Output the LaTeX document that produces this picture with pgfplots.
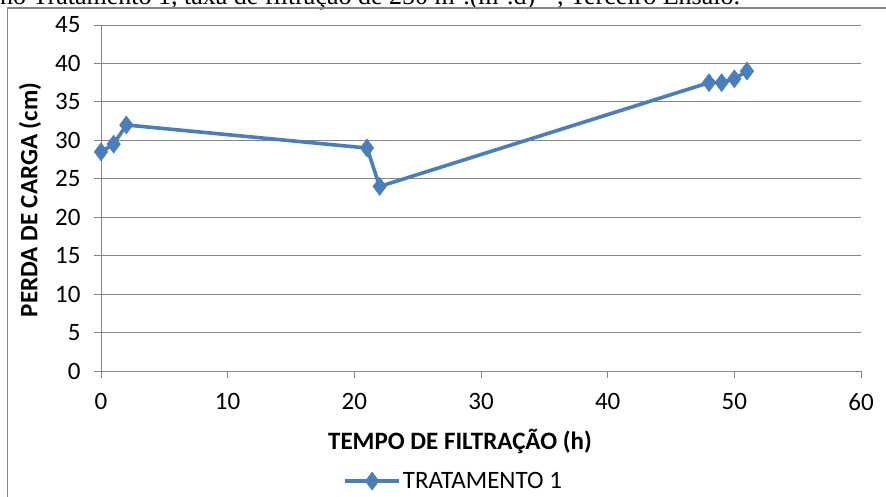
\documentclass[border=0pt]{standalone}
\usepackage{fontspec}
\setmainfont{Carlito}
\newfontfamily\capfont{Liberation Serif}
\usepackage{pgfplots}
\pgfplotsset{compat=1.18}
\definecolor{serie}{HTML}{4A7EBB}
\definecolor{eixo}{HTML}{868686}
\begin{document}
\begin{tikzpicture}[x=1pt,y=1pt]
\useasboundingbox (0,0) rectangle (886,496);
\clip (0,0) rectangle (886,496);
% legenda da figura, cortada no topo
\node[anchor=base west, inner sep=0pt, font=\capfont\fontsize{26}{26}\selectfont] at (0,491)
  {no Tratamento 1, taxa de filtração de 250 m$^{3}$.(m$^{2}$.d)$^{-1}$, Terceiro Ensaio.};
% moldura do gráfico
\draw[eixo, line width=1.6pt] (7.5,-5) -- (7.5,488) -- (900,488);
\begin{axis}[
  at={(101pt,125pt)}, anchor=origin,
  scale only axis, width=760pt, height=346pt,
  xmin=0, xmax=60, ymin=0, ymax=45,
  xtick={0,10,...,60}, ytick={0,5,...,45},
  axis x line*=bottom, axis y line*=left,
  axis line style={eixo, line width=0.9pt, -},
  ymajorgrids, grid style={eixo, line width=0.9pt},
  tick align=outside, major tick length=7pt,
  tick style={eixo, line width=0.9pt},
  /pgf/number format/assume math mode=true,
  ticklabel style={font=\fontsize{25}{25}\selectfont, text=black},
  xticklabel style={yshift=-12pt},
  yticklabel style={xshift=-10pt},
  clip=false,
  legend style={at={(0.464,-0.318)}, anchor=center, draw=none, fill=none,
    font=\fontsize{25}{25}\selectfont, inner sep=0pt},
  legend image code/.code={\draw[mark repeat=2,mark phase=2] plot coordinates {(0pt,0pt) (27pt,0pt) (54pt,0pt)};},
]
\addplot[serie, line width=3.6pt, mark=diamond*, mark size=9pt,
  mark options={fill=serie, draw=serie, line width=0.5pt}]
  coordinates {
    (0,28.5) (1,29.5) (2,32) (21,29) (22,24)
    (48,37.5) (49,37.5) (50,38) (51,39)
  };
\addlegendentry{TRATAMENTO 1}
\end{axis}
\node[font=\bfseries\fontsize{25}{25}\selectfont] at (460,55) {TEMPO DE FILTRAÇÃO (h)};
\node[font=\bfseries\fontsize{25}{25}\selectfont, rotate=90] at (30,296) {PERDA DE CARGA (cm)};
\end{tikzpicture}
\end{document}
